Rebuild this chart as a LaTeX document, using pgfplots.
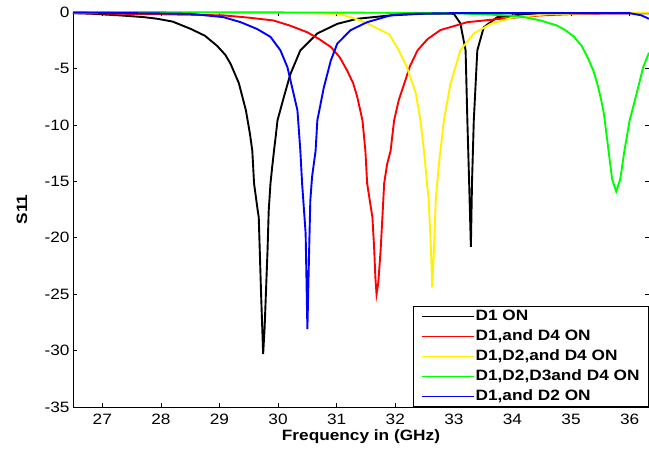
\documentclass[border=0pt]{standalone}
\usepackage{fontspec}
\setmainfont{Liberation Sans}[FakeStretch=1.15]
\usepackage{pgfplots}
\pgfplotsset{compat=1.18}
\begin{document}
\begin{tikzpicture}
\begin{axis}[
  at={(0,0)}, anchor=south west,
  width=576pt, height=395pt, scale only axis,
  xmin=26.5, xmax=36.33, ymin=-35, ymax=0,
  xtick={27,28,29,30,31,32,33,34,35,36},
  xticklabels={27,28,29,30,31,32,33,34,35,36},
  ytick={-35,-30,-25,-20,-15,-10,-5,0},
  yticklabels={-35,-30,-25,-20,-15,-10,-5,0},
  tick align=inside, major tick length=4pt,
  tick style={black, line width=0.6pt},
  axis line style={line width=0.9pt},
  ticklabel style={font=\fontsize{15}{18}\selectfont},
  xticklabel style={yshift=-3pt},
  xlabel={Frequency in (GHz)}, ylabel={S11},
  label style={font=\fontsize{15}{18}\selectfont\bfseries},
  xlabel style={at={(axis description cs:0.5,0)}, anchor=center, yshift=-30pt},
  ylabel style={at={(axis description cs:-0.0885,0.5)}, anchor=center},
  legend style={at={(1,0)}, anchor=south east, draw=black, line width=0.9pt,
    font=\fontsize{15}{18}\selectfont\bfseries, cells={anchor=west},
    inner xsep=8pt, inner ysep=2pt,
    nodes={inner sep=1pt, text height=11pt, text depth=3pt}, row sep=4pt},
  legend image code/.code={\draw[#1, line width=1.6pt] (0pt,0pt) -- (52pt,0pt);},
]
% D1 ON
\addplot[black, line width=1.9pt] coordinates {
(26.5,-0.1) (26.8,-0.15) (27.3,-0.3) (27.7,-0.45) (27.94,-0.6) (28.2,-0.85)
(28.51,-1.5) (28.75,-2.1) (28.96,-3.0) (29.1,-3.8) (29.19,-4.6) (29.33,-6.3)
(29.45,-8.7) (29.52,-10.8) (29.56,-12.3) (29.59,-15.2) (29.65,-17.5) (29.67,-18.2)
(29.71,-25) (29.745,-30.3) (29.77,-28) (29.82,-21.1) (29.84,-17.6) (29.87,-15.2)
(29.90,-13.7) (29.93,-12.3) (29.96,-11) (29.99,-9.6) (30.10,-7.5) (30.21,-5.5)
(30.38,-3.4) (30.67,-1.9) (31.01,-1.05) (31.35,-0.6) (31.92,-0.3) (32.5,-0.15)
(33.0,-0.16) (33.11,-1.0) (33.2,-3.4) (33.23,-9.6) (33.26,-15) (33.29,-20.8)
(33.31,-15) (33.34,-9.6) (33.40,-3.4) (33.51,-1.35) (33.74,-0.46) (34.2,-0.2)
(35,-0.1) (36.33,-0.1)};
% D1,and D4 ON
\addplot[red, line width=1.9pt] coordinates {
(26.5,-0.1) (28,-0.2) (29.07,-0.3) (29.5,-0.5) (29.92,-0.75) (30.2,-1.2)
(30.5,-1.8) (30.7,-2.4) (30.9,-3.1) (31.05,-4.0) (31.18,-5.2) (31.28,-6.3)
(31.35,-7.5) (31.44,-9.6) (31.49,-12.3) (31.52,-15.2) (31.61,-18.2) (31.64,-21)
(31.66,-23.5) (31.68,-25.0) (31.71,-24) (31.75,-21.1) (31.78,-18.2) (31.81,-15.2)
(31.86,-13.5) (31.92,-12.3) (31.98,-9.6) (32.06,-7.8) (32.15,-6.4) (32.25,-4.8)
(32.38,-3.4) (32.55,-2.4) (32.77,-1.6) (33.23,-0.9) (33.8,-0.6) (34.48,-0.3)
(35.2,-0.15) (36.33,-0.1)};
% D1,D2,and D4 ON
\addplot[yellow, line width=1.9pt] coordinates {
(26.5,-0.05) (30,-0.05) (31.01,-0.16) (31.2,-0.4) (31.4,-0.75) (31.6,-1.2)
(31.75,-1.6) (31.9,-2.0) (32.05,-3.3) (32.2,-4.9) (32.35,-7.2) (32.43,-9.6)
(32.49,-12.3) (32.57,-16.7) (32.61,-21.1) (32.63,-24.4) (32.66,-21.1) (32.69,-16.7)
(32.74,-13.7) (32.77,-12.3) (32.83,-9.6) (32.94,-6.4) (33.11,-3.4) (33.34,-1.9)
(33.63,-1.05) (34.02,-0.46) (34.6,-0.2) (35.5,-0.1) (36.33,-0.05)};
% D1,D2,D3and D4 ON
\addplot[green, line width=1.9pt] coordinates {
(26.5,0) (31,-0.05) (33,-0.1) (33.9,-0.3) (34.2,-0.45) (34.48,-0.75)
(34.76,-1.2) (34.9,-1.6) (35.05,-2.2) (35.18,-3.0) (35.28,-4.0) (35.38,-5.2)
(35.45,-6.4) (35.51,-7.7) (35.56,-9.0) (35.64,-12.3) (35.70,-14.8) (35.77,-15.9)
(35.84,-14.8) (35.91,-12.3) (36.0,-9.6) (36.12,-7.2) (36.23,-4.9) (36.33,-3.6)};
% D1,and D2 ON
\addplot[blue, line width=1.9pt] coordinates {
(26.5,-0.05) (27.5,-0.1) (28.51,-0.16) (29.07,-0.46) (29.36,-0.9) (29.64,-1.5)
(29.87,-2.2) (30.04,-3.4) (30.16,-4.9) (30.24,-6.7) (30.33,-8.7) (30.38,-12.3)
(30.41,-15.2) (30.47,-19.6) (30.50,-28.1) (30.53,-21.1) (30.55,-16.7) (30.58,-14.6)
(30.64,-12.3) (30.67,-9.6) (30.78,-6.7) (30.9,-4.3) (31.01,-2.8) (31.24,-1.6)
(31.52,-0.9) (31.92,-0.3) (32.2,-0.16) (33,-0.1) (36,-0.1) (36.2,-0.3) (36.33,-0.6)};
\legend{D1 ON, {D1,and D4 ON}, {D1,D2,and D4 ON}, {D1,D2,D3and D4 ON}, {D1,and D2 ON}}
\end{axis}
\pgfresetboundingbox
\path (-73pt,-41pt) rectangle (576pt,407pt);
\end{tikzpicture}
\end{document}
